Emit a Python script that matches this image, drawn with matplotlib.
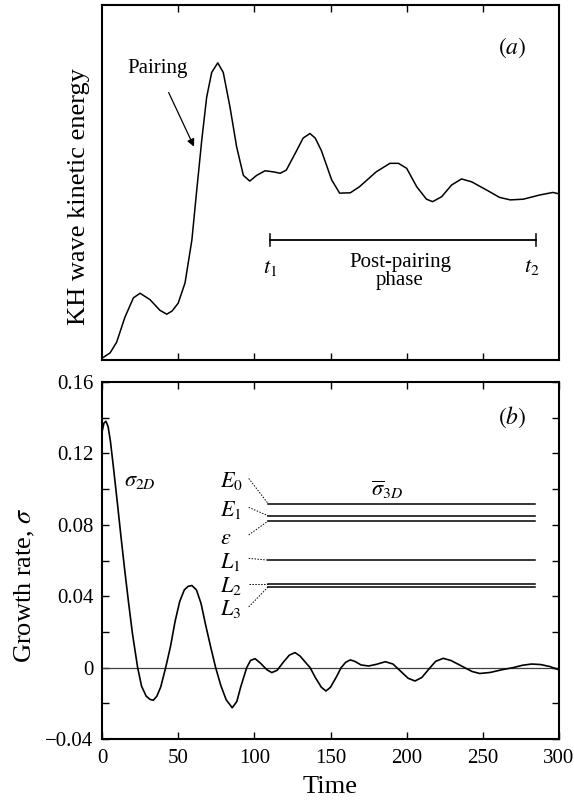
import matplotlib
matplotlib.use("Agg")
import matplotlib.pyplot as plt
from matplotlib.ticker import MultipleLocator, FixedLocator, FixedFormatter

plt.rcParams['font.family'] = ['Liberation Serif', 'DejaVu Serif']
plt.rcParams['mathtext.fontset'] = 'stix'

# ---- panel (a): KH wave kinetic energy (arbitrary units) ----
ke_t = [0, 5.3, 9.6, 15, 20.6, 25, 31.5, 38, 42.5, 46, 50, 54.5, 59, 62, 65.5,
        68.7, 72, 76, 79.6, 84, 88.4, 92.8, 97, 101.5, 107, 112.5, 117, 121,
        127.8, 132, 136.5, 140, 144, 150.8, 156, 163, 169, 180, 189, 194.6,
        200, 206.6, 213, 217, 223, 229.5, 236, 242.6, 252.4, 261, 268, 276.6,
        287.5, 296, 300]
ke_v = [0.005, 0.02, 0.05, 0.12, 0.175, 0.188, 0.17, 0.14, 0.129, 0.138, 0.16,
        0.217, 0.338, 0.47, 0.62, 0.74, 0.81, 0.837, 0.81, 0.713, 0.60, 0.52,
        0.504, 0.52, 0.533, 0.53, 0.526, 0.535, 0.59, 0.625, 0.638, 0.625, 0.59,
        0.507, 0.47, 0.471, 0.488, 0.53, 0.554, 0.554, 0.54, 0.488, 0.453,
        0.446, 0.46, 0.493, 0.51, 0.502, 0.479, 0.458, 0.451, 0.453, 0.465,
        0.472, 0.468]
t1, t2 = 110.4, 285.0
phase_level = 0.338

# ---- panel (b): 2D growth rate ----
s_t = [0, 1.3, 2.6, 4, 5.5, 7.4, 10, 12.5, 15, 17.5, 20, 23.4, 26, 29, 31.5,
       33.7, 36, 38.5, 41.8, 45, 48, 51, 54, 56.5, 59, 62, 65, 68, 71.5, 74.6,
       78, 81.5, 85.5, 88.5, 91, 95, 97.5, 100.5, 104, 108, 111.4, 115, 119,
       123, 126.7, 130, 133.5, 136.6, 140, 144, 147, 150, 154, 157, 160, 163,
       166, 170, 175, 180, 186, 191, 196, 201, 205.5, 210, 215.4, 219, 224,
       229, 234, 238, 243, 248, 255, 262, 270, 276, 282, 288, 294, 298.5, 300]
s_v = [0.132, 0.137, 0.138, 0.135, 0.127, 0.113, 0.093, 0.073, 0.054, 0.036,
       0.019, 0.0, -0.0105, -0.016, -0.0178, -0.0183, -0.016, -0.011, 0.0,
       0.012, 0.026, 0.037, 0.0435, 0.0455, 0.046, 0.0435, 0.036, 0.024, 0.011,
       0.0, -0.010, -0.018, -0.0225, -0.019, -0.011, 0.0, 0.004, 0.005, 0.0025,
       -0.001, -0.0028, -0.0015, 0.003, 0.007, 0.0084, 0.0065, 0.003, 0.0,
       -0.0055, -0.011, -0.0131, -0.011, -0.005, 0.0, 0.003, 0.0043, 0.0035,
       0.0015, 0.0009, 0.0018, 0.0033, 0.002, -0.002, -0.006, -0.0075, -0.0055,
       0.0, 0.0035, 0.0052, 0.004, 0.0018, 0.0, -0.0022, -0.0033, -0.0027,
       -0.0013, 0.0, 0.0013, 0.002, 0.0017, 0.0006, -0.0008, -0.0012]

# 3D mean growth rates
mode_names = [r'$E_0$', r'$E_1$', r'$\epsilon$', r'$L_1$', r'$L_2$', r'$L_3$']
mode_rates = [0.0917, 0.0850, 0.0822, 0.0602, 0.0468, 0.0453]
mode_label_y = [0.1045, 0.0885, 0.0720, 0.0593, 0.0455, 0.0330]
leader_start_y = [0.1060, 0.0898, 0.0743, 0.0612, 0.0468, 0.0340]
mean_t0, mean_t1 = 109.2, 284.0

xticks = [0, 50, 100, 150, 200, 250, 300]
yticks = [-0.04, 0.0, 0.04, 0.08, 0.12, 0.16]
yticklabels = ['\u22120.04', '0', '0.04', '0.08', '0.12', '0.16']

fig = plt.figure(figsize=(5.74, 8.08), dpi=100)
W, H = 574.0, 808.0
axa = fig.add_axes([102 / W, 1 - 360 / H, 457 / W, 355 / H])
axb = fig.add_axes([102 / W, 1 - 739 / H, 457 / W, 357 / H])

for ax in (axa, axb):
    for sp in ax.spines.values():
        sp.set_linewidth(1.5)

# ---------- panel (a) ----------
axa.plot(ke_t, ke_v, color='k', lw=1.1)
axa.set_xlim(0, 300)
axa.set_ylim(0, 1)
axa.set_yticks([])
axa.xaxis.set_major_locator(FixedLocator([50, 100, 150, 200, 250]))
axa.tick_params(axis='x', direction='in', top=True, bottom=True,
                labelbottom=False, length=5, width=1)
axa.set_ylabel('KH wave kinetic energy', fontsize=19)
axa.yaxis.set_label_coords(-0.026, 0.46)

axa.plot([t1, t2], [phase_level, phase_level], color='k', lw=1.3)
axa.plot([t1, t1], [phase_level - 0.017, phase_level + 0.017], color='k', lw=1.1)
axa.plot([t2, t2], [phase_level - 0.017, phase_level + 0.017], color='k', lw=1.1)
axa.text(t1, 0.26, r'$t_1$', fontsize=16, ha='center', va='center')
axa.text(282, 0.263, r'$t_2$', fontsize=16, ha='center', va='center')
axa.text(195.6, 0.25, 'Post-pairing\nphase', fontsize=15, ha='center',
         va='center', linespacing=0.95)
axa.annotate('Pairing', xy=(60.4, 0.601), xytext=(36.5, 0.82),
             fontsize=15, ha='center', va='center',
             arrowprops=dict(arrowstyle='-|>', color='k', lw=0.9,
                             mutation_scale=11, shrinkA=9, shrinkB=0))
axa.text(269, 0.88, r'$(a)$', fontsize=17, ha='center', va='center')

# ---------- panel (b) ----------
axb.axhline(0, color='0.25', lw=0.9)
axb.plot(s_t, s_v, color='k', lw=1.2)
for name, rate, ly, sy in zip(mode_names, mode_rates, mode_label_y, leader_start_y):
    axb.plot([mean_t0, mean_t1], [rate, rate], color='k', lw=1.1)
    axb.plot([96.3, mean_t0], [sy, rate], color='k', lw=0.7, ls=(0, (1.5, 1.5)))
    axb.text(77.5, ly, name, fontsize=16, ha='left', va='center')

axb.text(25, 0.104, r'$\sigma_{2D}$', fontsize=16, ha='center', va='center')
axb.text(187, 0.0995, r'$\overline{\sigma}_{3D}$', fontsize=16, ha='center',
         va='center')
axb.text(269, 0.14, r'$(b)$', fontsize=17, ha='center', va='center')

axb.set_xlim(0, 300)
axb.set_ylim(-0.04, 0.16)
axb.set_xticks(xticks)
axb.set_xticklabels([str(v) for v in xticks])
axb.yaxis.set_major_locator(FixedLocator(yticks))
axb.yaxis.set_major_formatter(FixedFormatter(yticklabels))
axb.yaxis.set_minor_locator(MultipleLocator(0.02))
axb.tick_params(axis='both', which='both', direction='in', top=True,
                right=True, length=5, width=1, labelsize=15)
axb.tick_params(axis='x', pad=7)
axb.tick_params(axis='y', pad=6)
axb.set_xlabel('Time', fontsize=19)
axb.xaxis.set_label_coords(0.5, -0.105)
axb.set_ylabel(r'Growth rate, $\sigma$', fontsize=19)
axb.yaxis.set_label_coords(-0.142, 0.43)

fig.savefig('out.png', dpi=100)
